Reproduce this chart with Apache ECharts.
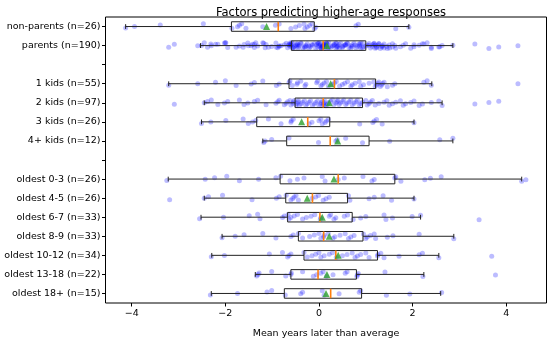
<!DOCTYPE html>
<html>
<head>
<meta charset="utf-8">
<script src="https://cdn.jsdelivr.net/npm/echarts@6/dist/echarts.min.js"></script>
<style>
  html, body { margin: 0; padding: 0; background: #fff; }
  #chart { width: 550px; height: 344px; }
</style>
</head>
<body>
<div id="chart"></div>
<script>
// Row labels, top to bottom; empty strings are spacer rows between groups.
const rowLabels = [
  'non-parents (n=26)', 'parents (n=190)', '',
  '1 kids (n=55)', '2 kids (n=97)', '3 kids (n=26)', '4+ kids (n=12)', '',
  'oldest 0-3 (n=26)', 'oldest 4-5 (n=26)', 'oldest 6-7 (n=33)', 'oldest 8-9 (n=33)',
  'oldest 10-12 (n=34)', 'oldest 13-18 (n=22)', 'oldest 18+ (n=15)'
];
const xTicks = [-4, -2, 0, 2, 4];

// Box statistics per row (null for spacer rows)
const whiskerLow  = [-4.13, -2.53, null, -3.21, -2.45, -2.51, -1.20, null, -3.22, -2.45, -2.52, -2.07, -2.29, -1.36, -2.30];
const quart1      = [-1.87, -0.59, null, -0.64, -0.51, -1.33, -0.69, null, -0.83, -0.71, -0.67, -0.44, -0.32, -0.60, -0.74];
const medians     = [-0.87,  0.09, null,  0.33,  0.09, -0.24,  0.24, null,  0.41, -0.14,  0.02,  0.10,  0.36, -0.02,  0.25];
const quart3      = [-0.10,  1.00, null,  1.21,  0.93,  0.23,  1.07, null,  1.62,  0.61,  0.71,  0.94,  1.25,  0.80,  0.91];
const whiskerHigh = [ 1.92,  2.86, null,  2.41,  2.63,  2.03,  2.86, null,  4.33,  2.03,  2.17,  2.88,  2.56,  2.24,  2.60];
const means       = [-1.12,  0.17, null,  0.25,  0.22, -0.37,  0.40, null,  0.32, -0.25,  0.07,  0.22,  0.41,  0.17,  0.15];

// Individual responses (years later than average)
const nonParents = [-4.13, -3.94, -3.39, -2.47, -1.86, -1.74, -1.70, -1.65, -1.56, -1.20, -0.93, -0.85,
  -0.60, -0.50, -0.42, -0.32, -0.30, -0.25, -0.20, -0.15, -0.10, -0.07, 0.79, 0.84, 1.64, 1.92];
const kids1 = [-3.21, -2.59, -2.21, -2.00, -1.77, -1.45, -1.38, -1.20, -0.91, -0.85, -0.64, -0.62, -0.57,
  -0.47, -0.46, -0.39, -0.30, -0.28, -0.05, -0.03, 0.04, 0.07, 0.11, 0.16, 0.20, 0.29, 0.33, 0.37, 0.44,
  0.50, 0.55, 0.61, 0.68, 0.71, 0.77, 0.86, 0.89, 0.95, 1.07, 1.17, 1.20, 1.23, 1.26, 1.28, 1.31, 1.34,
  1.36, 1.39, 1.46, 1.57, 1.62, 2.24, 2.31, 2.40, 4.25];
const kids2 = [-3.09, -2.45, -2.38, -2.30, -2.16, -2.02, -1.95, -1.70, -1.60, -1.52, -1.38, -1.31, -1.13,
  -0.92, -0.88, -0.85, -0.74, -0.70, -0.67, -0.62, -0.60, -0.56, -0.55, -0.53, -0.49, -0.47, -0.45, -0.44,
  -0.42, -0.38, -0.35, -0.31, -0.28, -0.25, -0.21, -0.18, -0.14, -0.10, -0.07, -0.03, 0.00, 0.03, 0.05,
  0.07, 0.09, 0.10, 0.11, 0.13, 0.15, 0.18, 0.21, 0.25, 0.29, 0.32, 0.36, 0.39, 0.40, 0.43, 0.46, 0.50,
  0.53, 0.57, 0.60, 0.64, 0.68, 0.71, 0.75, 0.79, 0.82, 0.86, 0.89, 0.93, 1.00, 1.03, 1.07, 1.10, 1.14,
  1.20, 1.28, 1.39, 1.45, 1.50, 1.57, 1.64, 1.74, 1.80, 1.85, 1.96, 2.03, 2.14, 2.21, 2.40, 2.56, 2.63,
  3.33, 3.63, 3.84];
const kids3 = [-2.51, -2.31, -1.99, -1.62, -1.51, -1.42, -1.35, -1.08, -0.81, -0.60, -0.59, -0.55, -0.21,
  -0.15, 0.00, 0.04, 0.07, 0.13, 0.16, 0.20, 0.87, 1.15, 1.18, 1.23, 1.35, 2.03];
const kids4 = [-1.18, -1.15, -1.01, -0.64, -0.01, 0.36, 0.39, 0.57, 0.93, 1.51, 2.58, 2.86];
// Every parent belongs to exactly one of the kid-count groups
const parents = [...kids1, ...kids2, ...kids3, ...kids4];
const oldest0to3 = [-3.25, -2.43, -2.23, -1.97, -1.70, -1.29, -0.92, -0.82, -0.62, -0.46, -0.32, 0.07, 0.13,
  0.41, 0.54, 0.94, 1.13, 1.18, 1.62, 1.64, 1.75, 2.26, 2.38, 2.61, 4.33, 4.42];
const oldest4to5 = [-3.19, -2.45, -2.36, -2.06, -1.43, -0.91, -0.85, -0.70, -0.60, -0.56, -0.53, -0.49, -0.44,
  -0.15, -0.07, -0.01, 0.09, 0.15, 0.22, 0.63, 0.66, 1.07, 1.18, 1.37, 1.55, 2.03];
const oldest6to7 = [-2.55, -2.04, -1.49, -1.31, -1.26, -0.78, -0.74, -0.66, -0.64, -0.60, -0.53, -0.46, -0.35,
  -0.27, -0.17, -0.09, 0.03, 0.04, 0.22, 0.25, 0.32, 0.36, 0.54, 0.61, 0.73, 0.89, 1.00, 1.39, 1.43, 1.57,
  1.99, 2.17, 3.42];
const oldest8to9 = [-2.07, -1.79, -1.60, -1.20, -0.92, -0.60, -0.55, -0.44, -0.35, -0.20, -0.10, 0.00, 0.04,
  0.10, 0.11, 0.20, 0.30, 0.34, 0.45, 0.56, 0.63, 0.68, 0.75, 0.95, 1.00, 1.03, 1.10, 1.18, 1.21, 1.46,
  1.58, 2.14, 2.88];
const oldest10to12 = [-2.30, -2.02, -1.06, -0.78, -0.67, -0.64, -0.60, -0.32, -0.25, -0.15, -0.07, 0.00, 0.04,
  0.11, 0.22, 0.29, 0.37, 0.50, 0.60, 0.71, 0.77, 0.82, 0.89, 1.00, 1.07, 1.25, 1.26, 1.32, 1.39, 1.71,
  2.14, 2.21, 2.56, 3.69];
const oldest13to18 = [-1.33, -1.30, -1.28, -1.01, -0.71, -0.60, -0.59, -0.35, -0.12, -0.05, 0.04, 0.09, 0.16,
  0.30, 0.56, 0.60, 0.81, 0.82, 0.84, 1.41, 2.22, 3.77];
const oldest18plus = [-2.32, -1.74, -1.11, -1.01, -0.72, -0.39, -0.35, 0.07, 0.11, 0.43, 0.86, 0.89, 1.44,
  1.94, 2.62];

const rowPoints = [nonParents, parents, null, kids1, kids2, kids3, kids4, null,
  oldest0to3, oldest4to5, oldest6to7, oldest8to9, oldest10to12, oldest13to18, oldest18plus];

const FONT = 'DejaVu Sans';
const minus = v => (v < 0 ? '\u2212' + Math.abs(v) : String(v));
const rowTicks = rowLabels.map((_, i) => i);

// Box rows for the custom series: [row, low, q1, median, q3, high]
const boxData = [];
rowLabels.forEach((_, i) => {
  if (medians[i] == null) return;
  boxData.push([i, whiskerLow[i], quart1[i], medians[i], quart3[i], whiskerHigh[i]]);
});

// One strip series per row; a small fixed vertical spread keeps overlapping points visible
const stripSeries = [];
rowPoints.forEach((pts, row) => {
  if (!pts) return;
  stripSeries.push({
    type: 'scatter', z: 2, silent: true,
    symbol: 'circle', symbolSize: 5,
    itemStyle: { color: 'rgba(0,0,255,0.33)' },
    data: pts.map((x, k) => ({
      value: [x, row],
      symbolOffset: [0, (((k + 1) * 0.7548776662) % 1 - 0.5) * 6]
    }))
  });
});

const meanData = [];
means.forEach((m, i) => { if (m != null) meanData.push([m, i]); });

function renderBox(params, api) {
  const row = api.value(0);
  const lo = api.coord([api.value(1), row]);
  const q1 = api.coord([api.value(2), row]);
  const md = api.coord([api.value(3), row]);
  const q3 = api.coord([api.value(4), row]);
  const hi = api.coord([api.value(5), row]);
  const band = Math.abs(api.size([0, 1])[1]);
  const boxH = band * 0.5;
  const capH = band * 0.25;
  const y = lo[1];
  const line = { stroke: '#222', lineWidth: 1, fill: null };
  return {
    type: 'group',
    children: [
      { type: 'line', shape: { x1: lo[0], y1: y, x2: q1[0], y2: y }, style: line },
      { type: 'line', shape: { x1: q3[0], y1: y, x2: hi[0], y2: y }, style: line },
      { type: 'line', shape: { x1: lo[0], y1: y - capH / 2, x2: lo[0], y2: y + capH / 2 }, style: line },
      { type: 'line', shape: { x1: hi[0], y1: y - capH / 2, x2: hi[0], y2: y + capH / 2 }, style: line },
      { type: 'rect', shape: { x: q1[0], y: y - boxH / 2, width: q3[0] - q1[0], height: boxH }, style: line },
      { type: 'line', shape: { x1: md[0], y1: y - boxH / 2, x2: md[0], y2: y + boxH / 2 },
        style: { stroke: '#ff7f0e', lineWidth: 1.6 } }
    ]
  };
}

const chart = echarts.init(document.getElementById('chart'), null, { renderer: 'canvas' });
chart.setOption({
  animation: false,
  backgroundColor: '#fff',
  textStyle: { fontFamily: FONT },
  title: {
    text: 'Factors predicting higher-age responses',
    left: 326, top: 2, textAlign: 'center',
    textStyle: { fontFamily: FONT, fontSize: 11.5, fontWeight: 'normal', color: '#000' }
  },
  grid: {
    left: 105.5, right: 3.5, top: 17, bottom: 32,
    show: true, borderColor: '#000', borderWidth: 1, backgroundColor: 'transparent'
  },
  xAxis: {
    type: 'value', min: -4.56, max: 4.86,
    name: 'Mean years later than average', nameLocation: 'middle', nameGap: 26,
    nameTextStyle: { fontFamily: FONT, fontSize: 9.5, color: '#000' },
    axisLine: { show: false, onZero: false },
    splitLine: { show: false },
    axisTick: { show: true, length: 3.5, lineStyle: { color: '#000' }, customValues: xTicks },
    axisLabel: { fontFamily: FONT, fontSize: 9.5, color: '#000', margin: 6,
      customValues: xTicks, formatter: v => minus(v) }
  },
  yAxis: {
    type: 'value', inverse: true, min: -0.5, max: rowLabels.length - 0.5,
    axisLine: { show: false, onZero: false },
    splitLine: { show: false },
    axisTick: { show: true, length: 3.5, lineStyle: { color: '#000' }, customValues: rowTicks },
    axisLabel: { fontFamily: FONT, fontSize: 9.5, color: '#000', margin: 5,
      customValues: rowTicks, formatter: v => rowLabels[Math.round(v)] }
  },
  series: [
    ...stripSeries,
    {
      type: 'custom', z: 3, data: boxData,
      encode: { x: [1, 2, 3, 4, 5], y: 0 },
      renderItem: renderBox, silent: true
    },
    {
      type: 'scatter', z: 4, data: meanData,
      symbol: 'triangle', symbolSize: [7, 7],
      itemStyle: { color: '#2ca02c' }, silent: true
    }
  ]
});
</script>
</body>
</html>
